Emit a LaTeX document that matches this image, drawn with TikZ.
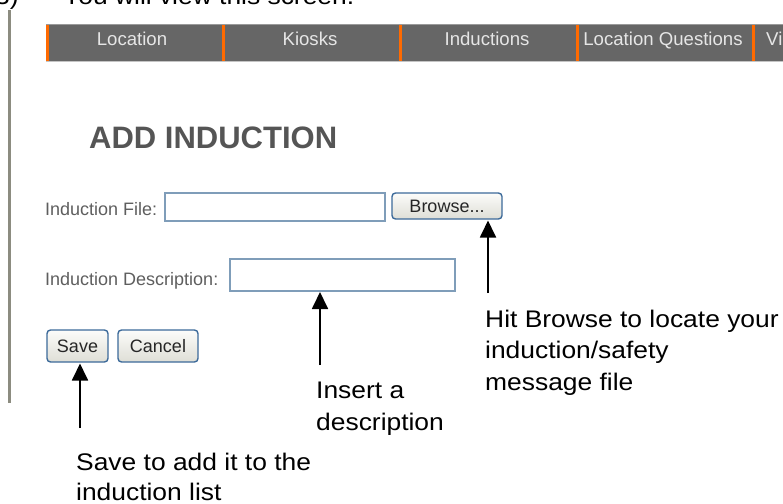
\documentclass[tikz,border=0pt]{standalone}
\usepackage{fontspec}
\setmainfont{Liberation Sans}
\newfontfamily\annfont[FakeStretch=1.1]{Liberation Sans}
\usetikzlibrary{arrows.meta}
\definecolor{menuGray}{HTML}{666666}
\definecolor{menuTop}{HTML}{9A9A9A}
\definecolor{menuBot}{HTML}{C4C4C4}
\definecolor{menuText}{HTML}{E6E6E6}
\definecolor{sepOrange}{HTML}{FF6A00}
\definecolor{leftBar}{HTML}{8C8C80}
\definecolor{titleGray}{HTML}{555555}
\definecolor{lblGray}{HTML}{5E5E5E}
\definecolor{boxBlue}{HTML}{7F9DB9}
\definecolor{btnBorder}{HTML}{3C6A9A}
\definecolor{btnTop}{HTML}{FCFCFA}
\definecolor{btnBot}{HTML}{DEDED6}
\begin{document}
\begin{tikzpicture}[x=1pt,y=-1pt,
  ann/.style={font=\annfont\fontsize{24}{30}\selectfont, anchor=base west, inner sep=0pt, text=black},
  menu/.style={font=\fontsize{18.6}{22}\selectfont, text=menuText, anchor=base, inner sep=0pt},
  lbl/.style={font=\fontsize{18}{22}\selectfont, text=lblGray, anchor=base west, inner sep=0pt},
  inbox/.style={draw=boxBlue, line width=1.3pt, fill=white, inner sep=0pt, outer sep=1pt},
  btn/.style={draw=btnBorder, line width=1.4pt, rounded corners=3.5pt, top color=btnTop, bottom color=btnBot, inner sep=0pt, outer sep=1.5pt, font=\fontsize{18}{22}\selectfont, text=black!85},
  arr/.style={line width=1.8pt, -{Triangle[width=16pt,length=17pt]}},
  sepline/.style={draw=sepOrange, line width=3pt}
]
\useasboundingbox (0,0) rectangle (783,503);

% heading text (cut at the top)
\node[ann] (num) at (-5,5) {3)};
\node[ann] (intro) at (63,5) {You will view this screen.};

% left vertical bar
\draw[leftBar, line width=2.5pt] (9.5,10) -- (9.5,403);

% menu bar
\fill[menuGray] (46,24) rectangle (783,61);
\draw[menuTop, line width=1pt] (46,24.5) -- (783,24.5);
\draw[menuBot, line width=1pt] (46,61) -- (783,61);
\draw[sepline] (47,25) -- (47,60.5);
\draw[sepline] (223,25) -- (223,60.5);
\draw[sepline] (400,25) -- (400,60.5);
\draw[sepline] (577,25) -- (577,60.5);
\draw[sepline] (753,25) -- (753,60.5);
\node[menu] (m1) at (132,45.7) {Location};
\node[menu] (m2) at (310,45.7) {Kiosks};
\node[menu] (m3) at (487,45.7) {Inductions};
\node[menu] (m4) at (663,45.7) {Location Questions};
\node[menu, anchor=base west] (m5) at (766,45.7) {Vi};

% title
\node[font=\bfseries\fontsize{31}{36}\selectfont, text=titleGray, anchor=base west, inner sep=0pt] (title) at (89,148) {ADD INDUCTION};

% form
\node[lbl] (lfile) at (45,215.5) {Induction File:};
\node[inbox, minimum width=220pt, minimum height=28pt] (file) at (275,207) {};
\node[btn, minimum width=110pt, minimum height=26pt] (browse) at (447,206) {Browse...};

\node[lbl] (ldesc) at (45,285.5) {Induction Description:};
\node[inbox, minimum width=225pt, minimum height=32pt] (desc) at (342.5,275) {};

\node[btn, minimum width=61pt, minimum height=32pt] (save) at (77.5,346) {Save};
\node[btn, minimum width=80pt, minimum height=32pt] (cancel) at (158,346) {Cancel};

% annotations
\coordinate (tb) at (488,293);
\coordinate (td) at (320,365);
\coordinate (ts) at (80,428);
\draw[arr] (tb) -- (tb |- browse.south);
\draw[arr] (td) -- (td |- desc.south);
\draw[arr] (ts) -- (ts |- save.south);

\node[ann] (hb1) at (485,327) {Hit Browse to locate your};
\node[ann] (hb2) at (485,358.5) {induction/safety};
\node[ann] (hb3) at (485,390) {message file};

\node[ann] (ia1) at (316,398) {Insert a};
\node[ann] (ia2) at (316,430) {description};

\node[ann] (sv1) at (76,470.5) {Save to add it to the};
\node[ann] (sv2) at (76,500.5) {induction list};
\end{tikzpicture}
\end{document}
